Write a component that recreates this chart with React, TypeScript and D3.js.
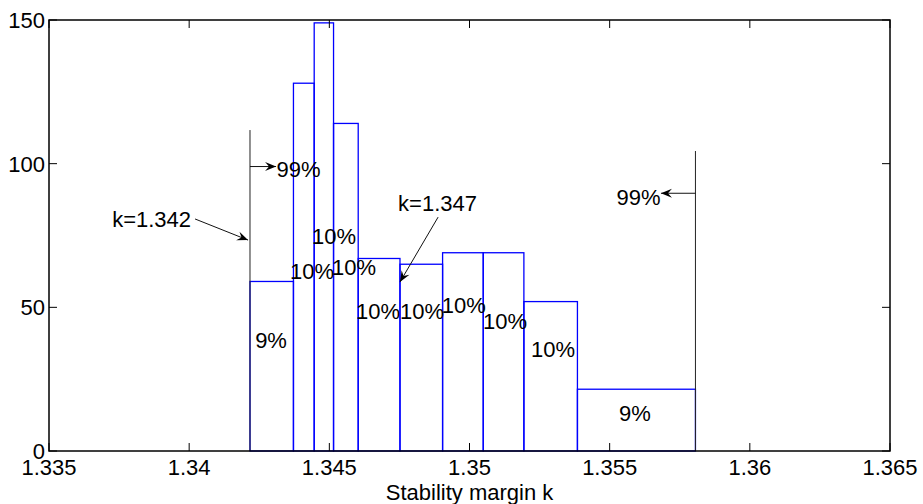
import React from "react";
import * as d3 from "d3";

// ---- data ----
const binEdges = [1.34217, 1.34372, 1.34446, 1.34515, 1.34603, 1.34752, 1.34904, 1.35049, 1.35194, 1.35385, 1.35806];
const binCounts = [59, 128, 149, 114, 67, 65, 69, 69, 52, 21.5];

const xTicks = [1.335, 1.34, 1.345, 1.35, 1.355, 1.36, 1.365];
const xTickLabels = ["1.335", "1.34", "1.345", "1.35", "1.355", "1.36", "1.365"];
const yTicks = [0, 50, 100, 150];
const yTickLabels = ["0", "50", "100", "150"];

const pctLabelX = [1.34292, 1.34438, 1.34588, 1.34517, 1.34674, 1.34831, 1.3498, 1.35127, 1.35298, 1.3559];
const pctLabelY = [38.3, 62.3, 63.7, 74.8, 48.7, 48.7, 50.8, 44.9, 35.2, 12.9];
const pctLabelText = ["9%", "10%", "10%", "10%", "10%", "10%", "10%", "10%", "10%", "9%"];

// bound lines [x, yTop]
const boundX = [1.34217, 1.35806];
const boundTop = [111.7, 104.4];

// arrows: from (x1,y1) to (x2,y2)
const arrowX1 = [1.34217, 1.35806, 1.34021, 1.34888];
const arrowY1 = [99, 89.7, 80.75, 81.4];
const arrowX2 = [1.3431, 1.35683, 1.3421, 1.34752];
const arrowY2 = [99, 89.7, 73.4, 58.8];

const annoText = ["99%", "99%", "k=1.342", "k=1.347"];
const annoX = [1.3439, 1.35603, 1.33866, 1.34886];
const annoY = [97.8, 88.2, 80.6, 86.1];

const xLabel = "Stability margin k";

// ---- layout ----
const W = 923;
const H = 504;
const left = 49;
const right = 890;
const top = 20;
const bottom = 451;
const FONT = "'Liberation Sans', Arial, Helvetica, sans-serif";
const FS = 22;

export default function App() {
  const x = d3.scaleLinear().domain([1.335, 1.365]).range([left, right]);
  const y = d3.scaleLinear().domain([0, 150]).range([bottom, top]);
  const tickLen = 8;

  const arrowHead = (x1: number, y1: number, x2: number, y2: number) => {
    const ang = Math.atan2(y2 - y1, x2 - x1);
    const len = 11;
    const half = 4.5;
    const back = 7;
    const bx = x2 - len * Math.cos(ang);
    const by = y2 - len * Math.sin(ang);
    const nx = -Math.sin(ang);
    const ny = Math.cos(ang);
    const p1 = [bx + half * nx, by + half * ny];
    const p2 = [bx - half * nx, by - half * ny];
    const notch = [x2 - back * Math.cos(ang), y2 - back * Math.sin(ang)];
    return `M${x2},${y2}L${p1[0]},${p1[1]}L${notch[0]},${notch[1]}L${p2[0]},${p2[1]}Z`;
  };

  return (
    <svg
      width={W}
      height={H}
      style={{ position: "absolute", left: 0, top: 0, background: "#fff" }}
      fontFamily={FONT}
    >
      <rect x={0} y={0} width={W} height={H} fill="#fff" />
      {/* bars */}
      {binCounts.map((c, i) => (
        <rect
          key={"b" + i}
          x={x(binEdges[i])}
          y={y(c)}
          width={x(binEdges[i + 1]) - x(binEdges[i])}
          height={y(0) - y(c)}
          fill="none"
          stroke="#0000ff"
          strokeWidth={1.3}
        />
      ))}
      {/* bound lines */}
      {boundX.map((bx, i) => (
        <line
          key={"bl" + i}
          x1={x(bx)}
          x2={x(bx)}
          y1={y(0)}
          y2={y(boundTop[i])}
          stroke="#222"
          strokeWidth={1}
        />
      ))}
      {/* arrows */}
      {arrowX1.map((ax, i) => {
        const X1 = x(ax), Y1 = y(arrowY1[i]), X2 = x(arrowX2[i]), Y2 = y(arrowY2[i]);
        return (
          <g key={"a" + i}>
            <line x1={X1} y1={Y1} x2={X2} y2={Y2} stroke="#111" strokeWidth={1} />
            <path d={arrowHead(X1, Y1, X2, Y2)} fill="#000" />
          </g>
        );
      })}
      {/* percentage labels */}
      {pctLabelText.map((t, i) => (
        <text
          key={"p" + i}
          x={x(pctLabelX[i])}
          y={y(pctLabelY[i])}
          fontSize={FS}
          textAnchor="middle"
          dominantBaseline="central"
          fill="#000"
        >
          {t}
        </text>
      ))}
      {annoText.map((t, i) => (
        <text
          key={"t" + i}
          x={x(annoX[i])}
          y={y(annoY[i])}
          fontSize={FS}
          textAnchor="middle"
          dominantBaseline="central"
          fill="#000"
        >
          {t}
        </text>
      ))}
      {/* axes box */}
      <rect x={left} y={top} width={right - left} height={bottom - top} fill="none" stroke="#000" strokeWidth={1.5} />
      {xTicks.map((t, i) => (
        <g key={"xt" + i}>
          <line x1={x(t)} x2={x(t)} y1={bottom} y2={bottom - tickLen} stroke="#000" strokeWidth={1} />
          <line x1={x(t)} x2={x(t)} y1={top} y2={top + tickLen} stroke="#000" strokeWidth={1} />
          <text x={x(t)} y={bottom + 24} fontSize={FS} textAnchor="middle" fill="#000">
            {xTickLabels[i]}
          </text>
        </g>
      ))}
      {yTicks.map((t, i) => (
        <g key={"yt" + i}>
          <line x1={left} x2={left + tickLen} y1={y(t)} y2={y(t)} stroke="#000" strokeWidth={1} />
          <line x1={right} x2={right - tickLen} y1={y(t)} y2={y(t)} stroke="#000" strokeWidth={1} />
          <text x={left - 4} y={y(t) + 8} fontSize={FS} textAnchor="end" fill="#000">
            {yTickLabels[i]}
          </text>
        </g>
      ))}
      <text x={(left + right) / 2} y={500} fontSize={FS} textAnchor="middle" fill="#000">
        {xLabel}
      </text>
    </svg>
  );
}
